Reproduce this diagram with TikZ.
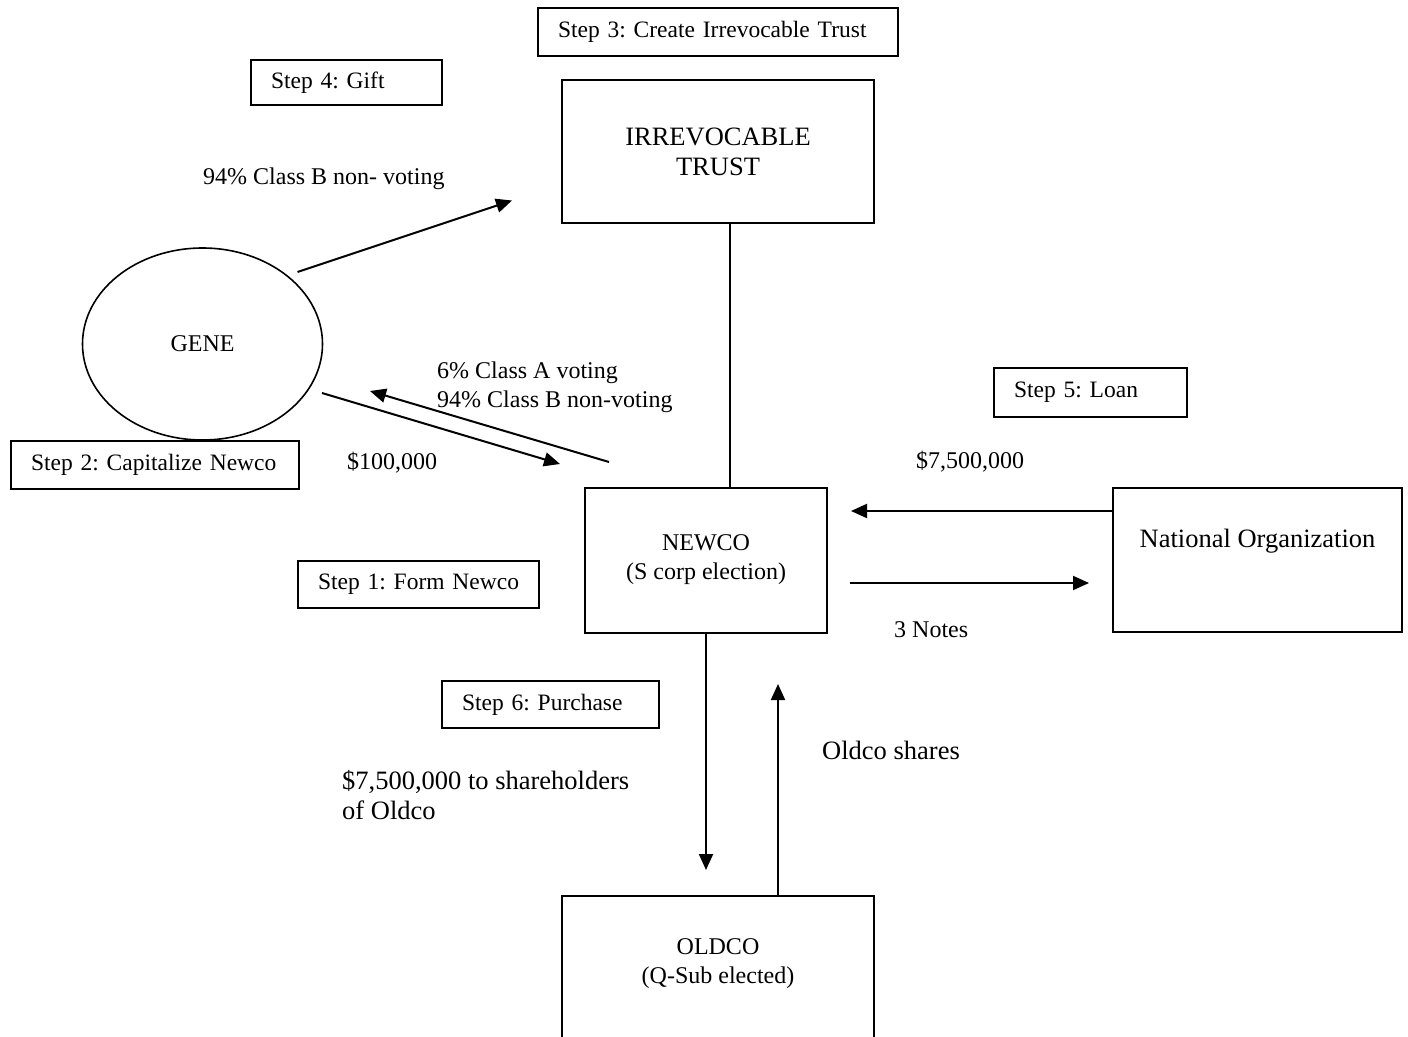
\documentclass[tikz,border=0pt]{standalone}
\usepackage{fontspec}
\setmainfont{Liberation Serif}
\usetikzlibrary{arrows.meta,shapes.geometric}
\frenchspacing

\begin{document}
\begin{tikzpicture}[x=1pt,y=-1pt,
  every node/.style={font=\fontsize{24}{29}\selectfont, inner sep=0pt},
  bigtext/.style={font=\fontsize{26.5}{30}\selectfont},
  stepbox/.style 2 args={draw, line width=2pt, anchor=north west,
    font=\fontsize{23.5}{28}\selectfont,
    inner xsep=20pt, inner ysep=0pt, align=left,
    text width=#1, minimum height=#2},
  entity/.style 2 args={draw, line width=2pt, align=center,
    minimum width=#1, minimum height=#2},
  flowlbl/.style={anchor=mid west},
  conn/.style={line width=2pt},
  arr/.style={line width=2pt, -{Triangle[length=16pt,width=14pt]}}
]
\useasboundingbox (0,0) rectangle (1408,1036);
\fill[white] (0,0) rectangle (1408,1036);
\clip (0,0) rectangle (1408,1036);

% step captions
\node[stepbox={320pt}{48pt}] (s3) at (537,7)   {\mbox{Step 3: Create Irrevocable Trust}};
\node[stepbox={151pt}{45pt}] (s4) at (250,59)  {\mbox{Step 4: Gift}};
\node[stepbox={248pt}{48pt}] (s2) at (10,440)  {\mbox{Step 2: Capitalize Newco}};
\node[stepbox={201pt}{47pt}] (s1) at (297,560) {\mbox{Step 1: Form Newco}};
\node[stepbox={153pt}{49pt}] (s5) at (993,367) {\mbox{Step 5: Loan}};
\node[stepbox={177pt}{47pt}] (s6) at (441,680) {\mbox{Step 6: Purchase}};

% parties
\node[entity={312pt}{143pt}, bigtext] (trust) at (718,151.5) {IRREVOCABLE\\TRUST};
\node[draw, ellipse, line width=1.6pt, minimum width=240pt, minimum height=192pt]
  (gene) at (202.5,344) {GENE};
\node[entity={242pt}{145pt}] (newco) at (706,560) {NEWCO\\(S corp election)};
\node[entity={289pt}{144pt}] (natorg) at (1257.5,560) {};
\node[bigtext, anchor=mid] (natorgtext) at (1257.5,545) {National Organization};
\node[entity={312pt}{174pt}] (oldco) at (718,983) {};
\node[align=center] (oldcotext) at (718,964) {OLDCO\\(Q-Sub elected)};

% flow labels
\node[flowlbl] (giftlbl) at (203,182) {94\% Class B non- voting};
\node[anchor=west, align=left] (shareslbl) at (437,387)
  {6\% Class A voting\\94\% Class B non-voting};
\node[flowlbl] (caplbl) at (347,467) {\$100,000};
\node[flowlbl] (loanlbl) at (916,466) {\$7,500,000};
\node[flowlbl] (noteslbl) at (894,635) {3 Notes};
\node[flowlbl, bigtext] (oldsharelbl) at (822,757) {Oldco shares};
\node[anchor=west, align=left, bigtext] (paylbl) at (342,795)
  {\$7,500,000 to shareholders\\of Oldco};

% connectors
\draw[conn] ([xshift=12pt]trust.south) -- ([xshift=24pt]newco.north);
\draw[arr] ([shift={(95,-72)}]gene.center) -- ([shift={(-49,49)}]trust.west);
\draw[arr] ([shift={(119.5,49)}]gene.center) -- ([shift={(-24,-22.5)}]newco.north west);
\draw[arr] ([shift={(25,-24.5)}]newco.north west) -- ([shift={(167.5,47)}]gene.center);
\draw[arr] ([shift={(0,24)}]natorg.north west) -- ([shift={(23,24.5)}]newco.north east);
\draw[arr] ([shift={(22,96.5)}]newco.north east) -- ([shift={(-23,96)}]natorg.north west);
\draw[arr] (newco.south) -- ([shift={(-12,-25)}]oldco.north);
\draw[arr] ([shift={(60,0)}]oldco.north) -- ([shift={(72,50.5)}]newco.south);
\end{tikzpicture}
\end{document}
